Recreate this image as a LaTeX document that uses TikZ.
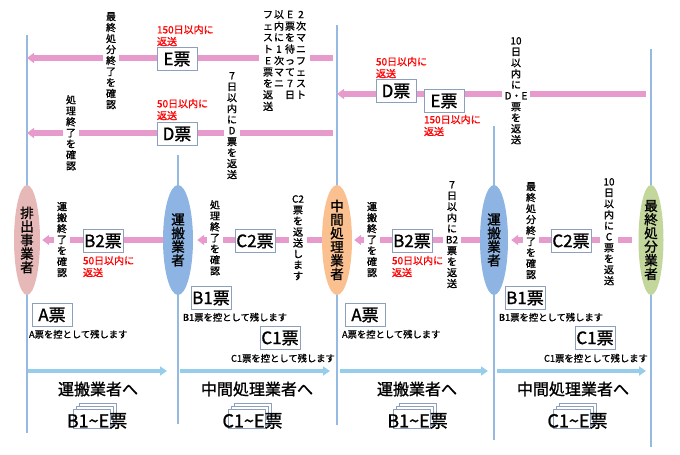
\documentclass[tikz,border=0pt]{standalone}
\usepackage{fontspec}
\setmainfont{Noto Sans CJK JP}[FakeBold=1.2]
\usetikzlibrary{arrows.meta,positioning,shapes.geometric,shadows}
\definecolor{laneBlue}{RGB}{150,185,225}
\definecolor{flowPink}{RGB}{231,155,205}
\definecolor{flowBlue}{RGB}{150,205,235}
\definecolor{slipGray}{RGB}{140,160,190}
\definecolor{haiPink}{RGB}{230,185,184}
\definecolor{unBlue}{RGB}{141,180,226}
\definecolor{chuPeach}{RGB}{250,192,144}
\definecolor{finGreen}{RGB}{195,214,155}
\tikzset{
  vline/.style={draw=laneBlue, line width=1.3pt},
  pinkarrow/.style={draw=flowPink, line width=5.5pt, -{Triangle[length=7pt,width=10pt]}},
  bluearrow/.style={draw=flowBlue, line width=4pt, -{Triangle[length=7pt,width=9pt]}},
  actor/.style={ellipse, minimum width=28pt, minimum height=110pt, inner sep=0pt},
  actorlbl/.style={align=center, font=\fontsize{13.5}{13.6}\selectfont},
  slip/.style={draw=slipGray, fill=white, minimum width=40pt, minimum height=23pt,
    inner sep=0pt, font=\fontsize{17}{17}\selectfont},
  vtxt/.style={fill=white, align=center, inner xsep=3pt, inner ysep=1pt,
    font=\fontsize{10}{11}\selectfont},
  due/.style={text=red, align=left, inner sep=0pt, font=\fontsize{10}{12}\selectfont},
  keep/.style={inner sep=0pt, font=\fontsize{9.3}{10}\selectfont},
  dest/.style={inner sep=0pt, font=\fontsize{16}{16}\selectfont},
  card/.style={draw=slipGray, fill=white, minimum width=37pt, minimum height=19pt, inner sep=0pt,
    double copy shadow={shadow xshift=3pt, shadow yshift=3pt, draw=slipGray, fill=white}},
  setlbl/.style={inner sep=0pt, font=\fontsize{18}{18}\selectfont}
}
\begin{document}
\begin{tikzpicture}[x=1pt,y=-1pt]
  \useasboundingbox (0,0) rectangle (680,455);
  % lifelines
  \foreach \n/\x/\ya/\yb in {1/27/35/433,2/178/155/424,3/337/25/425,4/494/126/440,5/651/49/447}{
    \coordinate (t\n) at (\x,\ya);
    \coordinate (b\n) at (\x,\yb);
    \draw[vline] (t\n) -- (b\n);
  }
  % parties
  \node[actor, fill=haiPink, minimum width=26pt,
    label={[actorlbl]center:排\\出\\事\\業\\者}] (haishutsu) at (27,240) {};
  \node[actor, fill=unBlue, minimum width=30pt,
    label={[actorlbl]center:運\\搬\\業\\者}] (unpan1) at (178,240) {};
  \node[actor, fill=chuPeach, minimum width=30pt,
    label={[actorlbl]center:中\\間\\処\\理\\業\\者}] (chukan) at (337,240) {};
  \node[actor, fill=unBlue, minimum width=28pt,
    label={[actorlbl]center:運\\搬\\業\\者}] (unpan2) at (494,240) {};
  \node[actor, fill=finGreen, minimum width=25pt,
    label={[actorlbl]center:最\\終\\処\\分\\業\\者}] (saishu) at (651,240) {};

  % return flows (pink)
  \coordinate (r1s) at (333,58);
  \coordinate (r2s) at (333,133);
  \coordinate (r3s) at (646,94);
  \draw[pinkarrow] (r1s) -- (t1 |- r1s);
  \draw[pinkarrow] (r2s) -- (t1 |- r2s);
  \draw[pinkarrow] (r3s) -- (t3 |- r3s);
  \draw[pinkarrow, shorten >=2pt] (unpan1.west) -- (haishutsu.east);
  \draw[pinkarrow, shorten >=4pt] (chukan.west) -- (unpan1.east);
  \draw[pinkarrow, shorten >=2pt] (unpan2.west) -- (chukan.east);
  \draw[pinkarrow, shorten >=3pt, shorten <=6pt] (saishu.west) -- (unpan2.east);

  % hand-over flows (blue)
  \foreach \k/\s/\e in {1/28/167,2/180/330,3/340/488,4/497/646}{
    \coordinate (f\k s) at (\s,371);
    \coordinate (f\k e) at (\e,371);
    \draw[bluearrow] (f\k s) -- (f\k e);
  }

  % vertical notes
  \node[vtxt, anchor=north] (finA) at (111,11) {最\\終\\処\\分\\終\\了\\を\\確\\認};
  \node[vtxt, anchor=north, inner xsep=4pt] (mani2) at (284.5,9) {%
    \begin{tabular}{@{}c@{\hspace{1pt}}c@{\hspace{1pt}}c@{\hspace{1pt}}c@{}}
      フ&以&E&2\\ ェ&内&票&次\\ ス&に&を&マ\\ ト&1&待&ニ\\ E&次&っ&フ\\
      票&マ&て&ェ\\ を&ニ&7&ス\\ 返& &日&ト\\ 送& & & \\
    \end{tabular}};
  \node[vtxt, anchor=north] (procA) at (71,94) {処\\理\\終\\了\\を\\確\\認};
  \node[vtxt, anchor=north] (retD) at (232,71) {7\\日\\以\\内\\に\\D\\票\\を\\返\\送};
  \node[vtxt, anchor=north] (retDE) at (516,36) {10\\日\\以\\内\\に\\D・E\\票\\を\\返\\送};
  \node[vtxt, anchor=north] (trA) at (62,201) {運\\搬\\終\\了\\を\\確\\認};
  \node[vtxt, anchor=north] (procB) at (215,199) {処\\理\\終\\了\\を\\確\\認};
  \node[vtxt, anchor=north] (retC2) at (298,194) {C2\\票\\を\\返\\送\\し\\ま\\す};
  \node[vtxt, anchor=north] (trB) at (372,201) {運\\搬\\終\\了\\を\\確\\認};
  \node[vtxt, anchor=north] (retB2) at (452,180) {7\\日\\以\\内\\に\\B2\\票\\を\\返\\送};
  \node[vtxt, anchor=north] (finB) at (531,181) {最\\終\\処\\分\\終\\了\\を\\確\\認};
  \node[vtxt, anchor=north] (retC) at (609,177) {10\\日\\以\\内\\に\\C\\票\\を\\返\\送};

  % slips
  \node[slip] (eTop) at (177,59) {E票};
  \node[slip] (dTop) at (177,134) {D票};
  \node[slip] (dRight) at (396,91) {D票};
  \node[slip] (eRight) at (444,101) {E票};
  \node[slip] (b2L) at (103,241) {B2票};
  \node[slip] (c2L) at (255,241) {C2票};
  \node[slip] (b2R) at (412,241) {B2票};
  \node[slip] (c2R) at (571,241) {C2票};
  \node[slip] (aL) at (52,315) {A票};
  \node[slip] (b1L) at (211,298) {B1票};
  \node[slip] (c1L) at (280,338) {C1票};
  \node[slip] (aR) at (365,315) {A票};
  \node[slip] (b1R) at (525,298) {B1票};
  \node[slip] (c1R) at (595,338) {C1票};

  % deadlines
  \node[due, anchor=south west] (eTopDue) at ([yshift=1pt]eTop.north west) {150日以内に\\返送};
  \node[due, anchor=south west] (dTopDue) at ([yshift=2pt]dTop.north west) {50日以内に\\返送};
  \node[due, anchor=south west] (dRightDue) at ([yshift=1pt]dRight.north west) {50日以内に\\返送};
  \node[due, anchor=north west] (eRightDue) at ([yshift=-2pt]eRight.south west) {150日以内に\\返送};
  \node[due, anchor=north west] (b2LDue) at ([yshift=-3pt]b2L.south west) {50日以内に\\返送};
  \node[due, anchor=north west] (b2RDue) at ([yshift=-3pt]b2R.south west) {50日以内に\\返送};

  % copies kept
  \node[keep, anchor=north west] (aLKeep) at ([xshift=-3pt,yshift=-3pt]aL.south west) {A票を控として残します};
  \node[keep, anchor=north west] (b1LKeep) at ([xshift=-8pt,yshift=-3pt]b1L.south west) {B1票を控として残します};
  \node[keep, anchor=north west] (c1LKeep) at ([xshift=-29pt,yshift=-4pt]c1L.south west) {C1票を控として残します};
  \node[keep, anchor=north west] (aRKeep) at ([xshift=-3pt,yshift=-3pt]aR.south west) {A票を控として残します};
  \node[keep, anchor=north west] (b1RKeep) at ([xshift=-6pt,yshift=-3pt]b1R.south west) {B1票を控として残します};
  \node[keep, anchor=north west] (c1RKeep) at ([xshift=-31pt,yshift=-4pt]c1R.south west) {C1票を控として残します};

  % hand-over targets and slip sets
  \node[dest] (toUnL) at (98,389) {運搬業者へ};
  \node[dest] (toChuL) at (257,389) {中間処理業者へ};
  \node[dest] (toUnR) at (417,389) {運搬業者へ};
  \node[dest] (toChuR) at (573,389) {中間処理業者へ};
  \node[card] (cardB1L) at (91.5,418.5) {};
  \node[card] (cardC1L) at (246.5,418.5) {};
  \node[card] (cardB1R) at (411.5,418.5) {};
  \node[card] (cardC1R) at (571.5,418.5) {};
  \node[setlbl] (setB1L) at (97,421) {B1\textasciitilde E票};
  \node[setlbl] (setC1L) at (252.5,421) {C1\textasciitilde E票};
  \node[setlbl] (setB1R) at (417.5,421) {B1\textasciitilde E票};
  \node[setlbl] (setC1R) at (577.5,421) {C1\textasciitilde E票};
\end{tikzpicture}
\end{document}
